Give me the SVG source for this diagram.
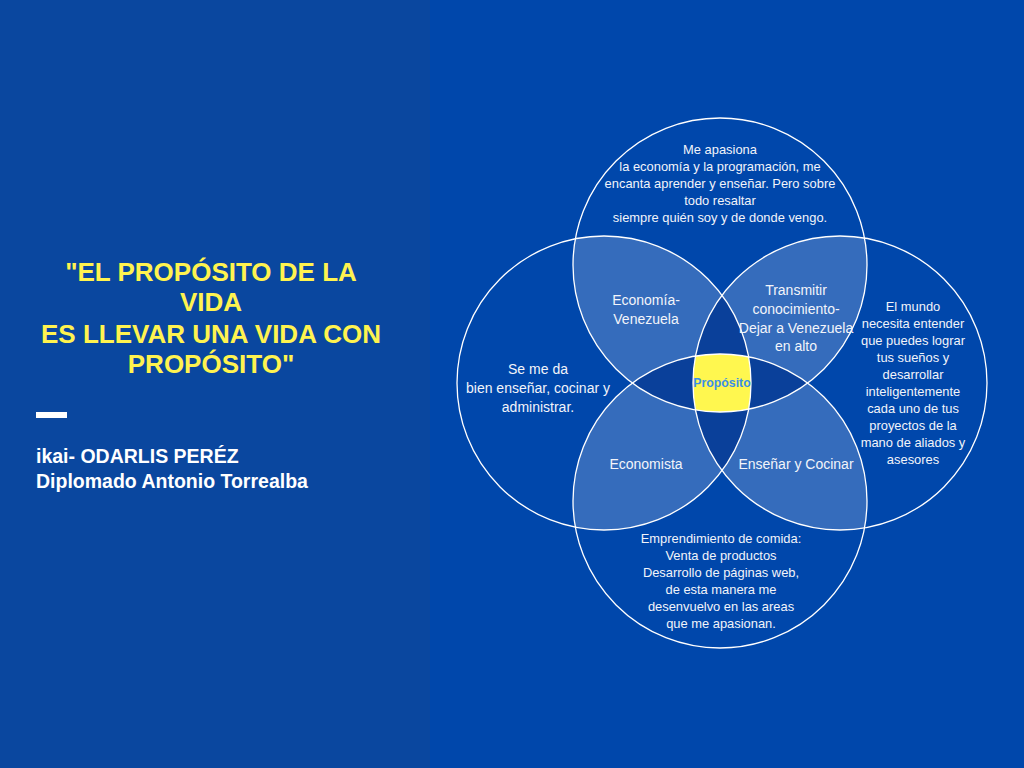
<svg xmlns="http://www.w3.org/2000/svg" width="1024" height="768" viewBox="0 0 1024 768">
<style>
.t{font-family:"Liberation Sans",Arial,sans-serif;font-size:12.9px;fill:#f2f4fa;text-anchor:middle}
.l{font-size:14px}
.ttl{font-family:"Liberation Sans",Arial,sans-serif;font-size:26px;font-weight:bold;fill:#fff34f;text-anchor:middle}
.au{font-family:"Liberation Sans",Arial,sans-serif;font-size:19.5px;font-weight:bold;fill:#ffffff}
.ring{fill:none;stroke:#ffffff;stroke-width:1.3}
</style>
<defs>
<clipPath id="cT"><circle cx="720" cy="265" r="147"/></clipPath>
<clipPath id="cL"><circle cx="604" cy="383" r="147"/></clipPath>
<clipPath id="cR"><circle cx="840" cy="383" r="147"/></clipPath>
<clipPath id="cB"><circle cx="720" cy="501" r="147"/></clipPath>
</defs>
<rect x="0" y="0" width="1024" height="768" fill="#0047ab"/>
<rect x="0" y="0" width="430" height="768" fill="#0a479f"/>
<g id="title">
<text class="ttl" x="211" y="281">"EL PROPÓSITO DE LA</text>
<text class="ttl" x="211" y="311">VIDA</text>
<text class="ttl" x="211" y="343">ES LLEVAR UNA VIDA CON</text>
<text class="ttl" x="211" y="373">PROPÓSITO"</text>
</g>
<rect id="bar" x="36" y="412" width="31" height="6" fill="#ffffff"/>
<g id="author">
<text class="au" x="36" y="463">ikai- ODARLIS PERÉZ</text>
<text class="au" x="36" y="488">Diplomado Antonio Torrealba</text>
</g>
<g id="venn">
<g clip-path="url(#cT)"><circle cx="604" cy="383" r="147" fill="#356cbc"/><circle cx="840" cy="383" r="147" fill="#356cbc"/></g>
<g clip-path="url(#cB)"><circle cx="604" cy="383" r="147" fill="#356cbc"/><circle cx="840" cy="383" r="147" fill="#356cbc"/></g>
<g clip-path="url(#cL)"><circle cx="840" cy="383" r="147" fill="#0a409a"/></g>
<g clip-path="url(#cT)"><circle cx="720" cy="501" r="147" fill="#0a409a"/></g>
<g clip-path="url(#cT)"><g clip-path="url(#cB)"><g clip-path="url(#cL)"><circle cx="840" cy="383" r="147" fill="#fff74f"/></g></g></g>
<circle class="ring" cx="720" cy="265" r="147"/>
<circle class="ring" cx="604" cy="383" r="147"/>
<circle class="ring" cx="840" cy="383" r="147"/>
<circle class="ring" cx="720" cy="501" r="147"/>
</g>
<g id="top-text">
<text class="t" x="720" y="154">Me apasiona</text>
<text class="t" x="720" y="171">la economía y la programación, me</text>
<text class="t" x="720" y="188">encanta aprender y enseñar. Pero sobre</text>
<text class="t" x="720" y="205">todo resaltar</text>
<text class="t" x="720" y="222">siempre quién soy y de donde vengo.</text>
</g>
<g id="left-text">
<text class="t l" x="538" y="374">Se me da</text>
<text class="t l" x="538" y="393">bien enseñar, cocinar y</text>
<text class="t l" x="538" y="412">administrar.</text>
</g>
<g id="right-text">
<text class="t" x="913" y="311">El mundo</text>
<text class="t" x="913" y="328">necesita entender</text>
<text class="t" x="913" y="345">que puedes lograr</text>
<text class="t" x="913" y="362">tus sueños y</text>
<text class="t" x="913" y="379">desarrollar</text>
<text class="t" x="913" y="396">inteligentemente</text>
<text class="t" x="913" y="413">cada uno de tus</text>
<text class="t" x="913" y="430">proyectos de la</text>
<text class="t" x="913" y="447">mano de aliados y</text>
<text class="t" x="913" y="464">asesores</text>
</g>
<g id="bottom-text">
<text class="t" x="721" y="543">Emprendimiento de comida:</text>
<text class="t" x="721" y="560">Venta de productos</text>
<text class="t" x="721" y="577">Desarrollo de páginas web,</text>
<text class="t" x="721" y="594">de esta manera me</text>
<text class="t" x="721" y="611">desenvuelvo en las areas</text>
<text class="t" x="721" y="628">que me apasionan.</text>
</g>
<g id="lens-tl"><text class="t l" x="646" y="305">Economía-</text><text class="t l" x="646" y="324">Venezuela</text></g>
<g id="lens-tr">
<text class="t l" x="796" y="295">Transmitir</text>
<text class="t l" x="796" y="314">conocimiento-</text>
<text class="t l" x="796" y="333">Dejar a Venezuela</text>
<text class="t l" x="796" y="351">en alto</text>
</g>
<g id="lens-bl"><text class="t l" x="646" y="469">Economista</text></g>
<g id="lens-br"><text class="t l" x="796" y="469">Enseñar y Cocinar</text></g>
<g id="center"><text x="722" y="387" style="font-family:'Liberation Sans',Arial,sans-serif;font-size:12.3px;font-weight:bold;fill:#3b8fe6;text-anchor:middle">Propósito</text></g>
</svg>
